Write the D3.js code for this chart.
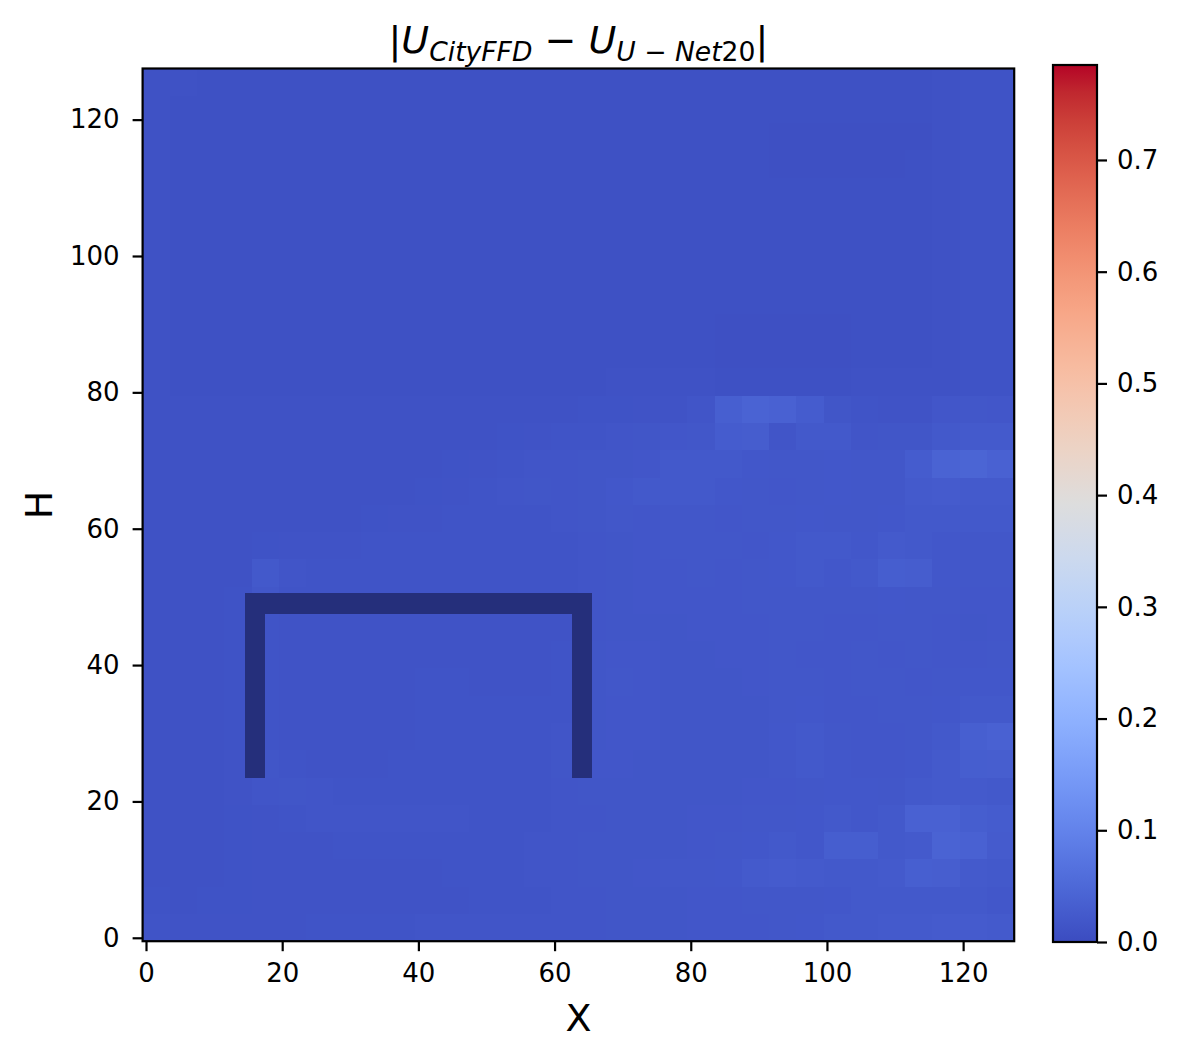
<!DOCTYPE html>
<html>
<head>
<meta charset="utf-8">
<script src="https://cdn.jsdelivr.net/npm/d3@7"></script>
<style>
  html, body { margin: 0; padding: 0; background: #ffffff; }
  svg { display: block; }
  text { font-family: "DejaVu Sans", sans-serif; fill: #000; }
</style>
</head>
<body>
<svg id="chart" width="1180" height="1058"></svg>
<script>
// ---------------- DATA ----------------
// Grid size of the field (cells along X and H)
const gridSize = 128;
// Coarse block size used to transcribe the field (cells per block side)
const blockSize = 4;
// |U_CityFFD - U_U-Net20|, in thousandths,
// 32 rows (top row = H 124..127, bottom row = H 0..3), 32 columns (X 0..3 ... 124..127)
const errorRows = [
  [11,10,9,9,9,9,9,9,9,9,9,9,9,9,9,9,9,9,9,9,9,9,9,9,9,9,9,9,9,11,12,12],
  [11,9,9,9,9,9,9,9,9,9,9,9,9,9,9,9,9,9,9,9,9,9,9,9,9,9,9,9,9,11,12,12],
  [10,9,9,9,9,9,9,9,9,9,9,9,9,9,9,9,9,9,9,9,9,9,9,7,7,7,7,7,7,11,12,12],
  [10,9,9,9,9,9,9,9,9,9,9,9,9,9,9,9,9,9,9,9,9,9,9,7,7,7,7,7,8,11,12,12],
  [10,9,9,9,9,9,9,9,9,9,9,9,9,9,9,9,9,9,9,9,9,9,9,9,9,9,9,9,9,11,12,12],
  [10,9,9,9,9,9,9,9,9,9,9,9,9,9,9,9,9,9,9,9,9,9,9,9,9,9,9,9,9,11,12,12],
  [10,9,9,9,9,9,9,9,9,9,9,9,9,9,9,9,9,9,9,9,9,9,9,9,9,9,9,9,9,11,12,12],
  [10,9,9,9,9,9,9,9,9,9,9,9,9,9,9,9,9,9,9,9,9,9,9,9,9,9,9,9,9,11,12,12],
  [10,9,9,9,9,9,9,9,9,9,9,9,9,9,9,9,9,9,9,9,9,9,9,9,9,9,9,9,9,11,12,12],
  [10,9,9,9,9,9,9,9,9,9,9,9,9,9,9,9,9,9,9,9,9,7,7,7,7,7,9,9,9,11,12,12],
  [10,9,9,9,9,9,9,9,9,9,9,9,9,9,9,9,9,9,9,9,9,7,7,7,7,7,9,9,9,11,12,12],
  [10,9,9,9,9,9,9,9,9,9,9,9,9,9,9,9,9,10,10,10,10,8,8,8,8,8,10,10,10,11,12,12],
  [10,10,10,10,10,10,10,10,10,10,10,10,10,10,10,11,12,12,13,13,16,34,40,37,28,17,14,13,13,18,19,18],
  [11,10,10,10,10,10,10,10,10,10,11,11,11,12,13,14,14,16,17,18,19,28,29,16,22,22,16,17,17,22,25,25],
  [11,10,10,10,10,10,10,10,11,11,11,12,13,14,16,16,17,17,18,22,23,22,20,19,19,20,19,19,28,40,43,37],
  [11,10,10,10,10,10,11,11,11,11,12,13,14,16,17,16,17,20,22,22,23,20,19,18,19,20,19,19,25,26,25,24],
  [11,11,11,11,11,11,11,11,12,13,13,14,14,14,14,16,17,19,18,19,19,18,19,19,20,19,19,20,22,23,22,22],
  [11,11,11,11,12,13,13,13,14,14,14,14,14,14,14,14,16,17,18,19,19,19,18,20,22,23,20,24,22,20,19,19],
  [11,11,11,11,22,16,14,14,14,14,14,14,14,14,14,14,16,17,18,18,19,18,19,20,22,20,22,31,29,20,19,19],
  [11,11,11,12,19,14,14,14,14,14,14,14,14,14,14,14,16,17,18,18,18,18,19,19,19,19,19,20,19,19,18,18],
  [11,11,11,12,14,13,13,13,13,13,13,13,13,13,13,13,16,17,17,17,18,18,18,19,19,18,18,19,19,18,17,18],
  [11,11,11,12,14,13,13,13,13,13,13,13,13,13,13,14,17,18,18,17,17,18,18,19,18,18,19,18,19,18,18,19],
  [11,11,11,12,14,13,13,13,13,13,14,14,13,13,13,14,17,19,18,17,17,17,18,19,19,18,19,19,18,19,20,20],
  [11,11,11,12,14,13,13,13,13,13,14,14,14,14,14,14,17,18,18,17,17,17,17,19,20,18,18,19,19,20,22,23],
  [11,11,11,12,14,13,13,13,13,13,14,14,14,14,14,16,17,18,18,17,17,17,17,20,22,19,18,18,19,23,34,37],
  [11,11,11,13,17,14,13,13,13,14,14,14,14,14,14,17,18,18,17,17,17,17,17,19,22,20,18,18,20,25,31,32],
  [11,11,11,13,16,17,16,14,14,14,14,14,14,14,14,16,17,17,17,17,17,17,18,18,19,20,20,19,22,24,24,22],
  [11,11,11,12,13,14,16,16,16,16,16,16,14,14,14,16,16,17,17,17,18,18,19,19,20,22,20,23,37,37,31,28],
  [11,11,11,12,13,13,13,14,14,14,14,14,14,14,16,16,17,17,17,17,18,19,20,22,20,31,31,23,25,40,37,26],
  [11,11,11,12,13,13,13,13,13,13,13,14,14,14,16,16,17,17,18,19,19,20,25,26,24,22,22,24,34,32,25,22],
  [12,11,12,12,13,13,13,13,13,13,13,13,14,14,14,16,16,17,17,17,18,18,19,19,19,20,22,22,23,22,22,20],
  [14,13,13,13,13,13,14,14,14,14,16,16,16,16,16,16,16,17,17,17,18,18,18,19,20,22,23,24,25,26,26,24]
];
// Building (masked solid cells), as [xStart, xEnd, hStart, hEnd] in cell indices (inclusive)
const buildingParts = [
  [15, 17, 24, 50],
  [63, 65, 24, 50],
  [15, 65, 48, 50]
];
// Colour range
const colorMin = 0.0;
const colorMax = 0.785;
// Tick labels
const axisTicks = [0, 20, 40, 60, 80, 100, 120];
const colorbarTicks = [0.0, 0.1, 0.2, 0.3, 0.4, 0.5, 0.6, 0.7];
// coolwarm colormap (Moreland), 33 stops
const coolwarmStops = [
  [59,76,192],[68,90,204],[77,104,215],[87,117,225],[98,130,234],[108,142,241],
  [119,154,247],[130,165,251],[141,176,254],[152,185,255],[163,194,255],[174,201,253],
  [184,208,249],[194,213,244],[204,217,238],[213,219,230],[221,221,221],[229,216,209],
  [236,211,197],[241,204,185],[245,196,173],[247,187,160],[247,177,148],[247,166,135],
  [244,154,123],[241,141,111],[236,127,99],[229,112,88],[222,96,77],[213,80,66],
  [203,62,56],[192,40,47],[180,4,38]
];

// ---------------- LAYOUT ----------------
const svg = d3.select("#chart");
const plot = { left: 142.6, right: 1014.2, top: 68.5, bottom: 941.2 };
const cbar = { left: 1053, right: 1097, top: 65, bottom: 942 };
const fontTick = 26;
const fontLabel = 38;
const lw = 2.2;

const x = d3.scaleLinear().domain([-0.5, gridSize - 0.5]).range([plot.left, plot.right]);
const y = d3.scaleLinear().domain([-0.5, gridSize - 0.5]).range([plot.bottom, plot.top]);

const stopDomain = coolwarmStops.map((_, i) => colorMin + (colorMax - colorMin) * i / (coolwarmStops.length - 1));
const color = d3.scaleLinear()
  .domain(stopDomain)
  .range(coolwarmStops.map(c => d3.rgb(c[0], c[1], c[2])))
  .interpolate(d3.interpolateRgb)
  .clamp(true);

// ---------------- HEATMAP ----------------
const cells = [];
errorRows.forEach((row, r) => {
  row.forEach((v, c) => {
    const hTop = gridSize - 1 - r * blockSize;
    cells.push({
      x0: c * blockSize - 0.5,
      x1: c * blockSize + blockSize - 0.5,
      y0: hTop - blockSize + 1 - 0.5,
      y1: hTop + 0.5,
      v: v / 1000
    });
  });
});

const heat = svg.append("g").attr("shape-rendering", "crispEdges");
heat.selectAll("rect.cell").data(cells).join("rect")
  .attr("class", "cell")
  .attr("x", d => x(d.x0))
  .attr("y", d => y(d.y1))
  .attr("width", d => x(d.x1) - x(d.x0) + 0.6)
  .attr("height", d => y(d.y0) - y(d.y1) + 0.6)
  .attr("fill", d => color(d.v));

// building
heat.selectAll("rect.bld").data(buildingParts).join("rect")
  .attr("class", "bld")
  .attr("x", d => x(d[0] - 0.5))
  .attr("y", d => y(d[3] + 0.5))
  .attr("width", d => x(d[1] + 0.5) - x(d[0] - 0.5))
  .attr("height", d => y(d[2] - 0.5) - y(d[3] + 0.5))
  .attr("fill", "#252f7b");

// ---------------- AXES ----------------
const xAxis = d3.axisBottom(x).tickValues(axisTicks).tickSize(10).tickPadding(12).tickFormat(d3.format("d"));
const yAxis = d3.axisLeft(y).tickValues(axisTicks).tickSize(10).tickPadding(13).tickFormat(d3.format("d"));

const gx = svg.append("g").attr("transform", `translate(0,${plot.bottom})`).call(xAxis);
const gy = svg.append("g").attr("transform", `translate(${plot.left},0)`).call(yAxis);
[gx, gy].forEach(g => {
  g.select(".domain").remove();
  g.selectAll(".tick line").attr("stroke", "#000").attr("stroke-width", lw);
  g.selectAll(".tick text").attr("font-size", fontTick).attr("font-family", "DejaVu Sans").attr("fill", "#000");
});

// frame
svg.append("rect")
  .attr("x", plot.left).attr("y", plot.top)
  .attr("width", plot.right - plot.left).attr("height", plot.bottom - plot.top)
  .attr("fill", "none").attr("stroke", "#000").attr("stroke-width", lw);

// axis labels
svg.append("text")
  .attr("x", (plot.left + plot.right) / 2).attr("y", 1031)
  .attr("text-anchor", "middle").attr("font-size", fontLabel)
  .text("X");
svg.append("text")
  .attr("transform", `translate(52,${(plot.top + plot.bottom) / 2}) rotate(-90)`)
  .attr("text-anchor", "middle").attr("font-size", fontLabel)
  .text("H");

// title (math style)
const title = svg.append("text")
  .attr("x", (plot.left + plot.right) / 2).attr("y", 53)
  .attr("text-anchor", "middle").attr("font-size", fontLabel);
title.append("tspan").text("|");
title.append("tspan").attr("font-style", "italic").text("U");
title.append("tspan").attr("font-style", "italic").attr("font-size", fontLabel * 0.7).attr("dy", 8).text("CityFFD");
title.append("tspan").attr("dy", -8).text(" \u2212 ");
title.append("tspan").attr("font-style", "italic").text("U");
title.append("tspan").attr("font-style", "italic").attr("font-size", fontLabel * 0.7).attr("dy", 8).text("U");
title.append("tspan").attr("font-size", fontLabel * 0.7).text(" \u2212 ");
title.append("tspan").attr("font-style", "italic").attr("font-size", fontLabel * 0.7).text("Net");
title.append("tspan").attr("font-size", fontLabel * 0.7).text("20");
title.append("tspan").attr("dy", -8).text("|");

// ---------------- COLORBAR ----------------
const cy = d3.scaleLinear().domain([colorMin, colorMax]).range([cbar.bottom, cbar.top]);
const defs = svg.append("defs");
const grad = defs.append("linearGradient").attr("id", "cw")
  .attr("x1", 0).attr("y1", 1).attr("x2", 0).attr("y2", 0);
grad.selectAll("stop").data(coolwarmStops).join("stop")
  .attr("offset", (d, i) => i / (coolwarmStops.length - 1))
  .attr("stop-color", d => d3.rgb(d[0], d[1], d[2]).formatHex());
svg.append("rect")
  .attr("x", cbar.left).attr("y", cbar.top)
  .attr("width", cbar.right - cbar.left).attr("height", cbar.bottom - cbar.top)
  .attr("fill", "url(#cw)").attr("stroke", "#000").attr("stroke-width", lw);

const cAxis = d3.axisRight(cy).tickValues(colorbarTicks).tickSize(10).tickPadding(10).tickFormat(d3.format(".1f"));
const gc = svg.append("g").attr("transform", `translate(${cbar.right},0)`).call(cAxis);
gc.select(".domain").remove();
gc.selectAll(".tick line").attr("stroke", "#000").attr("stroke-width", lw);
gc.selectAll(".tick text").attr("font-size", fontTick).attr("font-family", "DejaVu Sans").attr("fill", "#000");
</script>
</body>
</html>
